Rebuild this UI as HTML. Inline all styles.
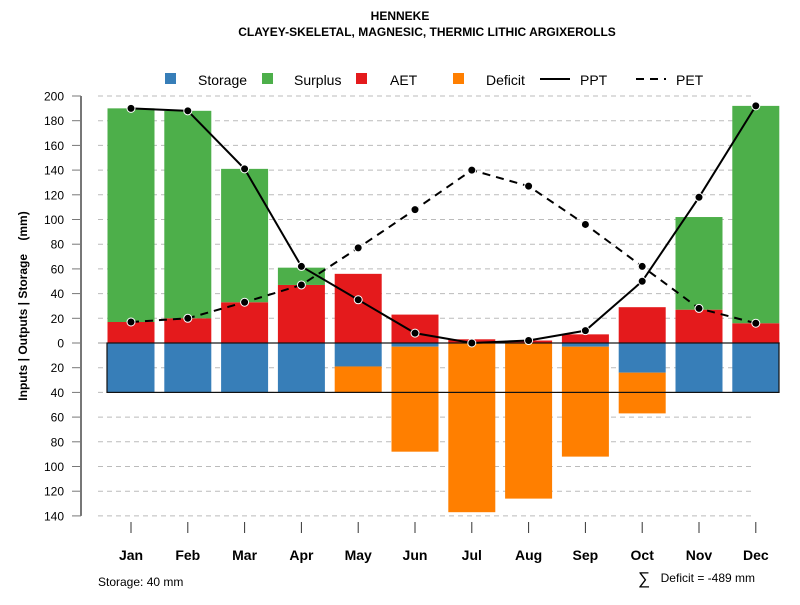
<!DOCTYPE html>
<html><head><meta charset="utf-8"><style>
body{margin:0;background:#fff;width:800px;height:600px;overflow:hidden}
svg{font-family:"Liberation Sans",Arial,sans-serif}
</style></head><body>
<svg id="c" width="800" height="600"></svg>
<script>
const months=["Jan","Feb","Mar","Apr","May","Jun","Jul","Aug","Sep","Oct","Nov","Dec"];
const ppt=[190,188,141,62,35,8,0,2,10,50,118,192];
const pet=[17,20,33,47,77,108,140,127,96,62,28,16];
const aet=[17,20,33,47,56,23,3,2,7,29,27,16];
const surplus=[173,168,108,14,0,0,0,0,0,0,75,176];
const storage=[40,40,40,40,19,3,0,0,3,24,40,40];
const deficit=[0,0,0,0,21,85,137,126,89,33,0,0];
const yTicks=[200,180,160,140,120,100,80,60,40,20,0,-20,-40,-60,-80,-100,-120,-140];
const NS="http://www.w3.org/2000/svg";
const svg=document.getElementById('c');
const Y=v=>343-v*1.235;
const X=i=>131+i*56.8;
const BW=47;
function el(t,a,p){const e=document.createElementNS(NS,t);for(const k in a)e.setAttribute(k,a[k]);(p||svg).appendChild(e);return e;}
function tx(x,y,s,a){const e=el('text',Object.assign({x:x,y:y},a));e.textContent=s;return e;}
let t=tx(400,20,"HENNEKE",{"text-anchor":"middle","font-size":12,"font-weight":"bold"});

t=tx(427,36,"CLAYEY-SKELETAL, MAGNESIC, THERMIC LITHIC ARGIXEROLLS",{"text-anchor":"middle","font-size":12,"font-weight":"bold"});

yTicks.forEach(v=>{
  const y=Y(v);
  if(v!==0){const g=el('line',{x1:98,x2:755,y1:y,y2:y,stroke:"#bbb","stroke-dasharray":"5,4"});
  }
  el('line',{x1:72,x2:81,y1:y,y2:y,stroke:"#777"});
  const l=tx(64,y+4.5,String(Math.abs(v)),{"text-anchor":"end","font-size":12});
  
});
el('line',{x1:98,x2:780,y1:343,y2:343,stroke:"#999"});
el('line',{x1:81,x2:81,y1:Y(200),y2:Y(-140),stroke:"#777","stroke-width":2});
t=tx(0,0,"Inputs | Outputs | Storage    (mm)",{"font-size":12,"font-weight":"bold","text-anchor":"middle",transform:"translate(27,306) rotate(-90)",style:"white-space:pre"});

months.forEach((m,i)=>{
  const x=X(i)-BW/2;
  let r=el('rect',{x:x,y:Y(aet[i]),width:BW,height:aet[i]*1.235,fill:"#e41a1c"});
  
  if(surplus[i]>0){r=el('rect',{x:x,y:Y(aet[i]+surplus[i]),width:BW,height:surplus[i]*1.235,fill:"#4daf4a"});
  }
  if(storage[i]>0){r=el('rect',{x:x,y:343,width:BW,height:storage[i]*1.235,fill:"#377eb8"});
  }
  if(deficit[i]>0){r=el('rect',{x:x,y:Y(-storage[i]),width:BW,height:deficit[i]*1.235,fill:"#ff7f00"});
  }
  el('line',{x1:X(i),x2:X(i),y1:522,y2:533,stroke:"#333"});
  const l=tx(X(i),560,m,{"text-anchor":"middle","font-size":14,"font-weight":"bold"});
  
});
let box=el('rect',{x:107,y:343,width:672,height:Y(-40)-343,fill:"none",stroke:"#111","stroke-width":1.2});

function line(arr,name,dash){
  const p=el('polyline',{points:arr.map((v,i)=>X(i)+","+Y(v)).join(" "),fill:"none",stroke:"#000","stroke-width":2,"stroke-dasharray":dash||"none"});
  
  arr.forEach((v,i)=>{const c=el('circle',{cx:X(i),cy:Y(v),r:4,fill:"#000",stroke:"#fff","stroke-width":1});
  });
}
line(pet,'pet',"8,6");
line(ppt,'ppt');
const lg=[["Storage","#377eb8",165,198],["Surplus","#4daf4a",262,294],["AET","#e41a1c",356,390],["Deficit","#ff7f00",453,486]];
lg.forEach(d=>{
  let s=el('rect',{x:d[2],y:73,width:11,height:11,fill:d[1]});
  
  const l=tx(d[3],85,d[0],{"font-size":14});
  
});
el('line',{x1:540,x2:570,y1:79,y2:79,stroke:"#000","stroke-width":2});
t=tx(580,85,"PPT",{"font-size":14});
el('line',{x1:636,x2:666,y1:79,y2:79,stroke:"#000","stroke-width":2,"stroke-dasharray":"8,6"});
t=tx(676,85,"PET",{"font-size":14});
t=tx(98,586,"Storage: 40 mm",{"font-size":12});
t=tx(638,584,"\u2211",{"font-size":17});
t=tx(755,582,"Deficit = -489 mm",{"font-size":12,"text-anchor":"end"});
</script>
</body></html>
